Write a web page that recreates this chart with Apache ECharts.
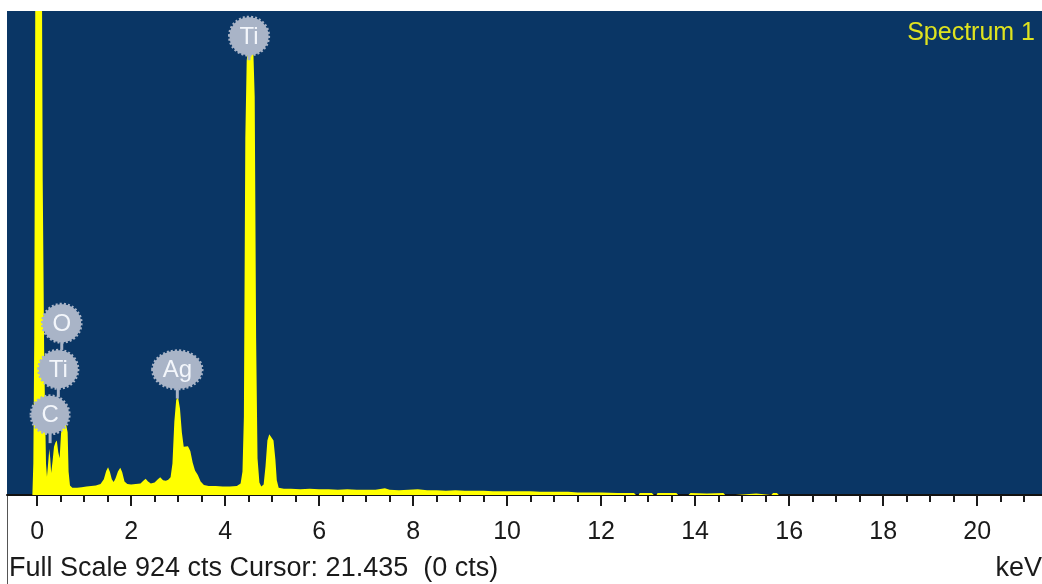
<!DOCTYPE html>
<html>
<head>
<meta charset="utf-8">
<script src="https://cdn.jsdelivr.net/npm/echarts@6/dist/echarts.min.js"></script>
<style>
  html, body { margin: 0; padding: 0; background: #ffffff; }
  #chart { width: 1042px; height: 584px; }
</style>
</head>
<body>
<div id="chart"></div>
<script>
// EDS spectrum: energy channel (keV) and counts
const energyKeV = [
  -0.10, -0.08, -0.06, -0.04, -0.02, 0.00, 0.03, 0.06, 0.09, 0.12, 0.15, 0.17, 0.19,
  0.21, 0.23, 0.26, 0.28, 0.30, 0.33, 0.36, 0.39, 0.42, 0.45, 0.48, 0.51, 0.54, 0.57,
  0.60, 0.63, 0.65, 0.67, 0.70, 0.75, 0.85, 0.95, 1.05, 1.15, 1.25, 1.35, 1.42, 1.47,
  1.51, 1.55, 1.59, 1.63, 1.67, 1.72, 1.77, 1.81, 1.86, 1.92, 2.00, 2.10, 2.20, 2.26,
  2.31, 2.36, 2.42, 2.50, 2.57, 2.62, 2.68, 2.74, 2.79, 2.84, 2.88, 2.92, 2.96, 3.00,
  3.04, 3.08, 3.12, 3.16, 3.21, 3.26, 3.31, 3.36, 3.42, 3.48, 3.55, 3.65, 3.80, 3.95,
  4.10, 4.25, 4.33, 4.37, 4.40, 4.43, 4.46, 4.50, 4.55, 4.60, 4.63, 4.66, 4.69, 4.73,
  4.77, 4.82, 4.86, 4.90, 4.94, 4.98, 5.03, 5.07, 5.10, 5.14, 5.25, 5.40, 5.60, 5.80,
  6.00, 6.20, 6.40, 6.60, 6.80, 7.00, 7.20, 7.40, 7.50, 7.70, 7.90, 8.10, 8.30, 8.50,
  8.70, 8.90, 9.10, 9.30, 9.50, 9.70, 9.90, 10.10, 10.30, 10.50, 10.70, 10.90, 11.10,
  11.30, 11.50, 11.70, 11.90, 12.00, 12.35, 12.70, 12.74, 12.80, 12.82, 13.08, 13.12,
  13.18, 13.20, 13.40, 13.44, 13.60, 13.64, 13.86, 13.90, 14.25, 14.60, 14.64, 14.86,
  14.90, 15.30, 15.34, 15.62, 15.66, 15.74, 15.78
];
const counts = [
  0, 60, 300, 900, 1800, 2600, 3000, 2400, 1300, 600, 280, 160, 60,
  35, 55, 88, 70, 42, 65, 92, 100, 104, 82, 70, 118, 132, 136,
  142, 145, 120, 45, 18, 14, 14, 15, 16, 17, 18, 21, 30, 46,
  53, 44, 30, 25, 32, 45, 52, 44, 26, 21, 20, 21, 22, 27,
  31, 26, 22, 24, 30, 34, 28, 27, 29, 34, 60, 140, 182, 186,
  165, 120, 92, 89, 93, 84, 62, 47, 38, 26, 19, 17, 17, 16,
  16, 17, 22, 45, 150, 680, 830, 858, 864, 850, 760, 300, 70, 24,
  16, 20, 55, 104, 116, 114, 104, 68, 28, 14, 12, 12, 11, 12,
  11, 11, 10, 11, 10, 10, 10, 13, 10, 9, 10, 11, 9, 9,
  8, 9, 8, 8, 8, 7, 7, 7, 7, 7, 6, 6, 6,
  6, 5, 5, 5, 5, 4, 4, 0, 0, 4, 4, 0,
  0, 4, 4, 4, 4, 0, 0, 4, 3, 4, 0, 0,
  3, 3, 0, 0, 4, 4, 0
];

// Axis scale
const fullScaleCts = 924;
const majorTicks = [0, 2, 4, 6, 8, 10, 12, 14, 16, 18, 20];
const minorTicks = [0, 0.5, 1, 1.5, 2, 2.5, 3, 3.5, 4, 4.5, 5, 5.5, 6, 6.5, 7, 7.5, 8, 8.5,
  9, 9.5, 10, 10.5, 11, 11.5, 12, 12.5, 13, 13.5, 14, 14.5, 15, 15.5, 16, 16.5, 17, 17.5,
  18, 18.5, 19, 19.5, 20, 20.5, 21];

// Element line markers: name, line energy, marker height and stem end (cts)
const peakNames = ['Ti', 'O', 'Ti', 'C', 'Ag'];
const peakKeV = [4.51, 0.525, 0.452, 0.277, 2.984];
const peakLabelCts = [876, 328, 240, 153, 239];
const peakStemCts = [830, 277, 187, 99, 184];

const FONT = '"Liberation Sans", Arial, sans-serif';
const chart = echarts.init(document.getElementById('chart'), null, { renderer: 'canvas' });

const measureCtx = document.createElement('canvas').getContext('2d');
function textWidth(txt, size) {
  measureCtx.font = size + 'px ' + FONT;
  return measureCtx.measureText(txt).width;
}

const markerColor = '#a9b4c7';

chart.setOption({
  backgroundColor: '#ffffff',
  animation: false,
  grid: {
    left: 7, right: 0, top: 11, bottom: 89,
    show: true, backgroundColor: '#0a3665', borderWidth: 0
  },
  xAxis: [
    {
      type: 'value', min: -0.64, max: 21.38, position: 'bottom',
      axisLine: { show: true, onZero: false, lineStyle: { color: '#111111', width: 2 } },
      axisTick: { show: true, customValues: majorTicks, length: 11, lineStyle: { color: '#1a1a1a', width: 2 } },
      axisLabel: { show: true, customValues: majorTicks, fontSize: 25, color: '#1a1a1a', fontFamily: FONT, margin: 25 },
      splitLine: { show: false }
    },
    {
      type: 'value', min: -0.64, max: 21.38, position: 'bottom', offset: 0,
      axisLine: { show: false },
      axisTick: { show: true, customValues: minorTicks, length: 7, lineStyle: { color: '#1a1a1a', width: 2 } },
      axisLabel: { show: false },
      splitLine: { show: false }
    }
  ],
  yAxis: {
    type: 'value', min: 0, max: fullScaleCts, show: false
  },
  series: [
    {
      type: 'line',
      data: energyKeV.map((e, i) => [e, counts[i]]),
      showSymbol: false,
      clip: true,
      lineStyle: { width: 0, opacity: 0 },
      areaStyle: { color: '#ffff00', opacity: 1 },
      z: 2
    },
    {
      type: 'custom',
      coordinateSystem: 'cartesian2d',
      clip: false,
      z: 5,
      data: peakNames.map((n, i) => [peakKeV[i], peakLabelCts[i], peakStemCts[i]]),
      renderItem: function (params, api) {
        const name = peakNames[params.dataIndex];
        const c = api.coord([api.value(0), api.value(1)]);
        const s = api.coord([api.value(0), api.value(2)]);
        const ry = 19;
        const rx = Math.max(19, textWidth(name, 24) / 2 + 10);
        return {
          type: 'group',
          children: [
            { type: 'line', shape: { x1: c[0], y1: c[1] + ry - 2, x2: s[0], y2: s[1] },
              style: { stroke: markerColor, lineWidth: 3 } },
            { type: 'ellipse', shape: { cx: c[0], cy: c[1], rx: rx, ry: ry },
              style: { fill: markerColor, stroke: markerColor, lineWidth: 3, lineDash: [2, 2] } },
            { type: 'text', style: { text: name, x: c[0], y: c[1] + 1, align: 'center', verticalAlign: 'middle',
              fontSize: 24, fontFamily: FONT, fill: '#f3f6fb' } }
          ]
        };
      }
    }
  ],
  graphic: [
    { type: 'text', right: 7, top: 21,
      style: { text: 'Spectrum 1', fontSize: 25, fontFamily: FONT, fill: '#dfe31f' } },
    { type: 'line', shape: { x1: 7.5, y1: 495, x2: 7.5, y2: 584 },
      style: { stroke: '#555555', lineWidth: 1 } },
    { type: 'text', left: 9, top: 555,
      style: { text: 'Full Scale 924 cts Cursor: 21.435  (0 cts)', fontSize: 27, fontFamily: FONT, fill: '#1a1a1a' } },
    { type: 'text', right: 0, top: 555,
      style: { text: 'keV', fontSize: 27, fontFamily: FONT, fill: '#1a1a1a' } }
  ]
});
</script>
</body>
</html>
